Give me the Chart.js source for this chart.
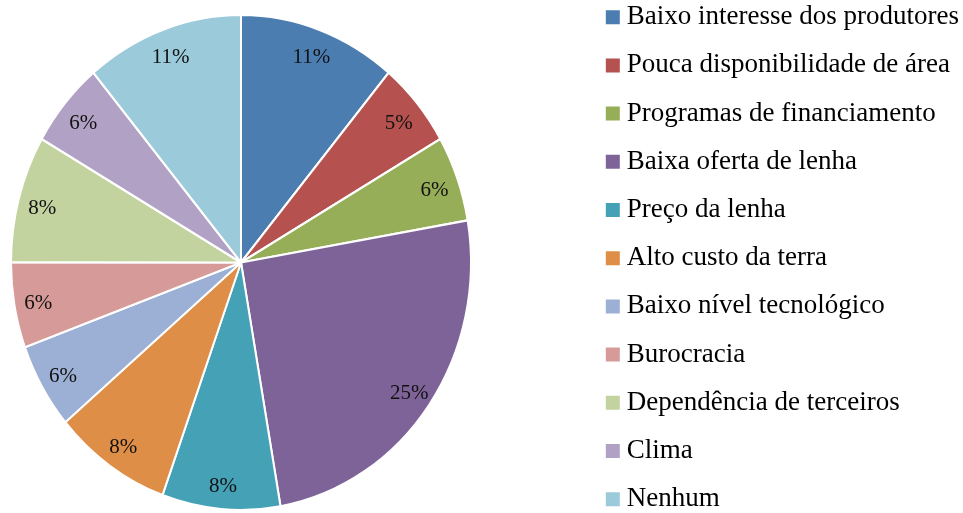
<!DOCTYPE html>
<html>
<head>
<meta charset="utf-8">
<script src="https://cdn.jsdelivr.net/npm/chart.js@4.4.1/dist/chart.umd.min.js"></script>
<style>
html,body{margin:0;padding:0;background:#fff;overflow:hidden}
canvas{display:block}
</style>
</head>
<body>
<canvas id="c" width="963" height="513"></canvas>
<script>
const categories = [
  "Baixo interesse dos produtores",
  "Pouca disponibilidade de área",
  "Programas de financiamento",
  "Baixa oferta de lenha",
  "Preço da lenha",
  "Alto custo da terra",
  "Baixo nível tecnológico",
  "Burocracia",
  "Dependência de terceiros",
  "Clima",
  "Nenhum"
];
const shares = [11.1, 5.6, 5.6, 25.0, 8.3, 8.3, 5.6, 5.6, 8.3, 5.6, 11.1];
const pctLabels = ["11%", "5%", "6%", "25%", "8%", "8%", "6%", "6%", "8%", "6%", "11%"];
const colors = ["#4b7db0", "#b5514e", "#97ae59", "#7e6399", "#45a1b6", "#de8e46",
                "#9bb0d4", "#d69a98", "#c2d3a0", "#b1a2c5", "#9bcada"];

const Y_STRETCH = 1.076;
// region reserved for the pie (left part of the canvas)
const PIE_AREA = { left: 0, right: 482, top: 16, bottom: 509 };

const piePlugin = {
  id: 'ellipsePie',
  afterLayout(chart) {
    const a = chart.chartArea;
    a.left = PIE_AREA.left;
    a.right = PIE_AREA.right;
    a.top = PIE_AREA.top;
    a.bottom = PIE_AREA.bottom;
    a.width = a.right - a.left;
    a.height = a.bottom - a.top;
  },
  beforeDatasetsDraw(chart) {
    const a = chart.getDatasetMeta(0).data[0];
    const ctx = chart.ctx;
    ctx.save();
    ctx.translate(a.x, a.y);
    ctx.scale(1, Y_STRETCH);
    ctx.translate(-a.x, -a.y);
  },
  afterDatasetsDraw(chart) {
    const ctx = chart.ctx;
    ctx.restore();
    const meta = chart.getDatasetMeta(0);
    ctx.save();
    ctx.font = "21px 'Liberation Serif', serif";
    ctx.fillStyle = '#111';
    ctx.textAlign = 'center';
    ctx.textBaseline = 'middle';
    meta.data.forEach((arc, i) => {
      const mid = (arc.startAngle + arc.endAngle) / 2;
      const r = arc.outerRadius * 0.895;
      const x = arc.x + r * Math.cos(mid);
      const y = arc.y + r * Math.sin(mid) * Y_STRETCH + 3;
      ctx.fillText(pctLabels[i], x, y);
    });
    ctx.restore();
  }
};

new Chart(document.getElementById('c'), {
  type: 'pie',
  data: {
    labels: categories,
    datasets: [{
      data: shares,
      backgroundColor: colors,
      borderColor: '#ffffff',
      borderWidth: 2,
      radius: 230
    }]
  },
  options: {
    responsive: false,
    animation: false,
    devicePixelRatio: 1,
    layout: { padding: { top: -17.5, bottom: -29.5, left: 0, right: -6 } },
    plugins: {
      legend: {
        position: 'right',
        align: 'start',
        labels: {
          font: { family: "'Liberation Serif', serif", size: 27 },
          color: '#000',
          padding: 21.2,
          usePointStyle: true,
          pointStyle: 'rect',
          boxWidth: 1,
          boxHeight: 14,
          generateLabels(chart) {
            return Chart.overrides.pie.plugins.legend.labels.generateLabels(chart)
              .map(l => Object.assign(l, { lineWidth: 0, pointStyle: 'rect' }));
          }
        }
      },
      tooltip: { enabled: false }
    }
  },
  plugins: [piePlugin]
});
</script>
</body>
</html>
